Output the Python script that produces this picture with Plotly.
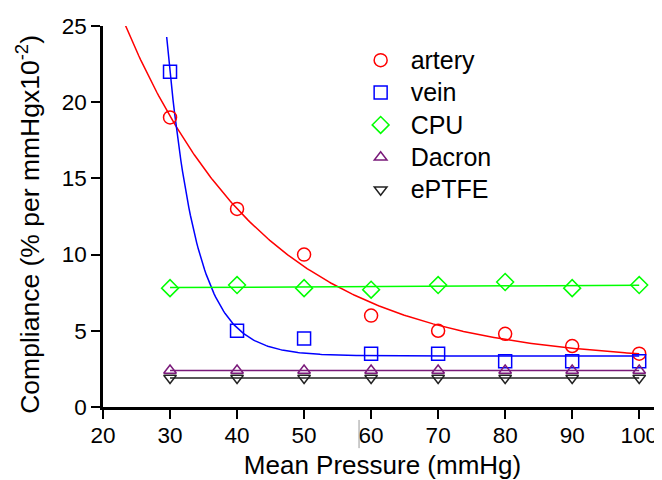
import numpy as np
import plotly.graph_objects as go

# ---- data ----
pressure = [30, 40, 50, 60, 70, 80, 90, 100]
artery = [19.0, 13.0, 10.0, 6.0, 5.0, 4.8, 4.0, 3.5]
vein = [22.0, 5.0, 4.5, 3.5, 3.5, 3.0, 3.0, 3.0]
cpu = [7.8, 8.0, 7.8, 7.7, 8.0, 8.2, 7.8, 8.0]
dacron = [2.4, 2.4, 2.4, 2.4, 2.4, 2.4, 2.4, 2.4]
eptfe = [1.9, 1.9, 1.9, 1.9, 1.9, 1.9, 1.9, 1.9]
series_names = ["artery", "vein", "CPU", "Dacron", "ePTFE"]
x_ticks = [20, 30, 40, 50, 60, 70, 80, 90, 100]
y_ticks = [0, 5, 10, 15, 20, 25]
x_title = "Mean Pressure (mmHg)"
y_title = "Compliance (% per mmHgx10<sup>-2</sup>)"

FONT = "Liberation Sans, Arial, sans-serif"
BODY_MARGIN = 8  # default browser body margin around the plot div


def exp_fit(x, y, x0=30.0):
    """Least-squares fit of y = a*exp(-k*(x-x0)) + c (grid over k)."""
    x = np.asarray(x, float)
    y = np.asarray(y, float)
    best = None
    for k in np.linspace(0.001, 1.5, 6000):
        A = np.column_stack([np.exp(-k * (x - x0)), np.ones_like(x)])
        coef, *_ = np.linalg.lstsq(A, y, rcond=None)
        r = float(np.sum((A @ coef - y) ** 2))
        if best is None or r < best[0]:
            best = (r, k, coef)
    _, k, (a, c) = best
    return lambda t: a * np.exp(-k * (np.asarray(t) - x0)) + c


def lin_fit(x, y):
    p = np.polyfit(x, y, 1)
    return lambda t: np.polyval(p, t)


fig = go.Figure()

# fitted curves
t_art = np.linspace(20, 100, 300)
t_vein = np.linspace(29.5, 100, 300)
t_lin = np.array([30, 100])
f_art = exp_fit(pressure, artery)
f_vein = exp_fit(pressure, vein)

colors = ["#ff0000", "#0000ff", "#00ff00", "#7a1a7a", "#222222"]
fits = [
    (t_art, f_art(t_art)),
    (t_vein, f_vein(t_vein)),
    (t_lin, lin_fit(pressure, cpu)(t_lin)),
    (t_lin, lin_fit(pressure, dacron)(t_lin)),
    (t_lin, lin_fit(pressure, eptfe)(t_lin)),
]
for (tx, ty), col in zip(fits, colors):
    fig.add_trace(go.Scatter(x=tx, y=ty, mode="lines", line=dict(color=col, width=1.5),
                             showlegend=False, hoverinfo="skip"))

values = [artery, vein, cpu, dacron, eptfe]
symbols = ["circle-open", "square-open", "diamond-open", "triangle-up-open", "triangle-down-open"]
sizes = [13, 13, 13, 11, 11]
for name, ys, sym, col, sz in zip(series_names, values, symbols, colors, sizes):
    fig.add_trace(go.Scatter(x=pressure, y=ys, mode="markers",
                             name='<span style="font-size:25px">%s</span>' % name,
                             marker=dict(symbol=sym, size=sz, color=col,
                                         line=dict(color=col, width=1.5))))

axis_common = dict(showline=True, linecolor="black", linewidth=2.5, ticks="outside",
                   ticklen=9, tickwidth=2, tickcolor="black", showgrid=False,
                   zeroline=False, tickfont=dict(family=FONT, size=22.5, color="black"))

fig.update_layout(
    width=662 - BODY_MARGIN, height=480 - BODY_MARGIN,
    margin=dict(l=103.3 - BODY_MARGIN, r=0, t=26 - BODY_MARGIN, b=72.7),
    paper_bgcolor="white", plot_bgcolor="white",
    font=dict(family=FONT, color="black"),
    xaxis=dict(range=[20, 103.4], tickvals=x_ticks, ticklabelstandoff=-3,
               title=dict(text=x_title, font=dict(family=FONT, size=26), standoff=14),
               **axis_common),
    yaxis=dict(range=[0, 25], tickvals=y_ticks, **axis_common),
    legend=dict(x=0.443, y=0.966, xanchor="left", yanchor="top", bgcolor="rgba(0,0,0,0)",
                font=dict(family=FONT, size=22.6, color="black"), itemwidth=50),
    annotations=[dict(text=y_title, textangle=-90, xref="paper", yref="paper",
                      x=-0.1348, y=0.48, xanchor="center", yanchor="middle", showarrow=False,
                      font=dict(family=FONT, size=26.5, color="black"))],
    shapes=[dict(type="line", xref="x", yref="paper", x0=58.2, x1=58.2, y0=-0.034, y1=-0.108,
                 line=dict(color="#999999", width=1))],
)

fig.write_html("out.html")
